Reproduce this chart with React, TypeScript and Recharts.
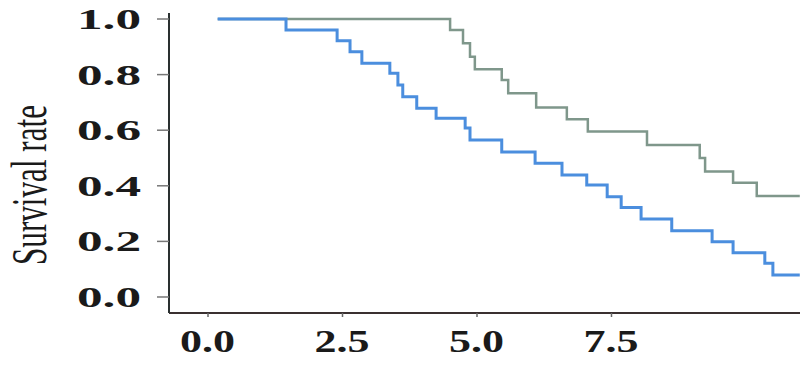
import React from "react";
import { LineChart, Line, XAxis, YAxis, Label } from "recharts";

// Lower curve (blue)
const lowerTimes = [0.18, 1.45, 2.4, 2.64, 2.86, 3.38, 3.53, 3.62, 3.88, 4.24, 4.78, 4.87, 5.46, 6.08, 6.58, 7.04, 7.42, 7.68, 8.05, 8.62, 9.37, 9.76, 10.35, 10.5, 11.0];
const lowerSurv = [1.0, 0.96, 0.922, 0.882, 0.841, 0.805, 0.763, 0.72, 0.679, 0.643, 0.608, 0.565, 0.522, 0.481, 0.439, 0.403, 0.361, 0.322, 0.281, 0.238, 0.199, 0.159, 0.121, 0.079, 0.079];

// Upper curve (grey-green)
const upperTimes = [0.18, 4.5, 4.74, 4.87, 4.96, 5.46, 5.58, 6.1, 6.67, 7.06, 8.16, 9.14, 9.24, 9.76, 10.2, 11.0];
const upperSurv = [1.0, 0.96, 0.913, 0.864, 0.819, 0.781, 0.733, 0.682, 0.639, 0.595, 0.547, 0.5, 0.451, 0.411, 0.363, 0.363];

const xTicks = [0, 2.5, 5, 7.5];
const yTicks = [0, 0.2, 0.4, 0.6, 0.8, 1.0];

const lowerData = lowerTimes.map((t, i) => ({ t, s: lowerSurv[i] }));
const upperData = upperTimes.map((t, i) => ({ t, s: upperSurv[i] }));

const FONT = "'Liberation Serif', 'Times New Roman', serif";

const XTick = (props: any) => {
  const { x, y, payload } = props;
  return (
    <text
      x={x - 28}
      y={y + 33}
      fontFamily={FONT}
      fontWeight="bold"
      fontSize={32}
      fill="#1a1a1a"
      textAnchor="start"
      textLength={55}
      lengthAdjust="spacingAndGlyphs"
    >
      {Number(payload.value).toFixed(1)}
    </text>
  );
};

const YTick = (props: any) => {
  const { x, y, payload } = props;
  return (
    <text
      x={x - 80}
      y={y + 10}
      fontFamily={FONT}
      fontWeight="bold"
      fontSize={30}
      fill="#1a1a1a"
      textAnchor="start"
      textLength={64}
      lengthAdjust="spacingAndGlyphs"
    >
      {Number(payload.value).toFixed(1)}
    </text>
  );
};

export default function App() {
  return (
    <div style={{ position: "absolute", left: 0, top: 0, background: "#fff" }}>
      <LineChart
        width={800}
        height={379}
        margin={{ top: 13, right: 0, bottom: 0, left: 0 }}
      >
        <XAxis
          type="number"
          dataKey="t"
          domain={[-0.725, 11.004]}
          allowDataOverflow
          ticks={xTicks}
          height={66}
          tickSize={4}
          tickMargin={2}
          axisLine={{ stroke: "#3a3030", strokeWidth: 2 }}
          tickLine={{ stroke: "#666", strokeWidth: 1.5 }}
          tick={<XTick />}
        />
        <YAxis
          type="number"
          dataKey="s"
          domain={[-0.0576, 1.0216]}
          allowDataOverflow
          ticks={yTicks}
          width={169}
          tickSize={12}
          tickMargin={0}
          axisLine={{ stroke: "#2a3030", strokeWidth: 2 }}
          tickLine={{ stroke: "#777", strokeWidth: 1.5 }}
          tick={<YTick />}
        >
          <Label
            content={() => (
              <text
                x={46}
                y={185}
                transform="rotate(-90 46 185)"
                fontFamily={FONT}
                fontSize={50}
                fill="#1a1a1a"
                textAnchor="middle"
                textLength={160}
                lengthAdjust="spacingAndGlyphs"
              >
                Survival rate
              </text>
            )}
          />
        </YAxis>
        <Line
          data={upperData}
          dataKey="s"
          type="stepAfter"
          stroke="#7f978b"
          strokeWidth={2.5}
          dot={false}
          isAnimationActive={false}
        />
        <Line
          data={lowerData}
          dataKey="s"
          type="stepAfter"
          stroke="#4b8ede"
          strokeWidth={3}
          dot={false}
          isAnimationActive={false}
        />
      </LineChart>
    </div>
  );
}
